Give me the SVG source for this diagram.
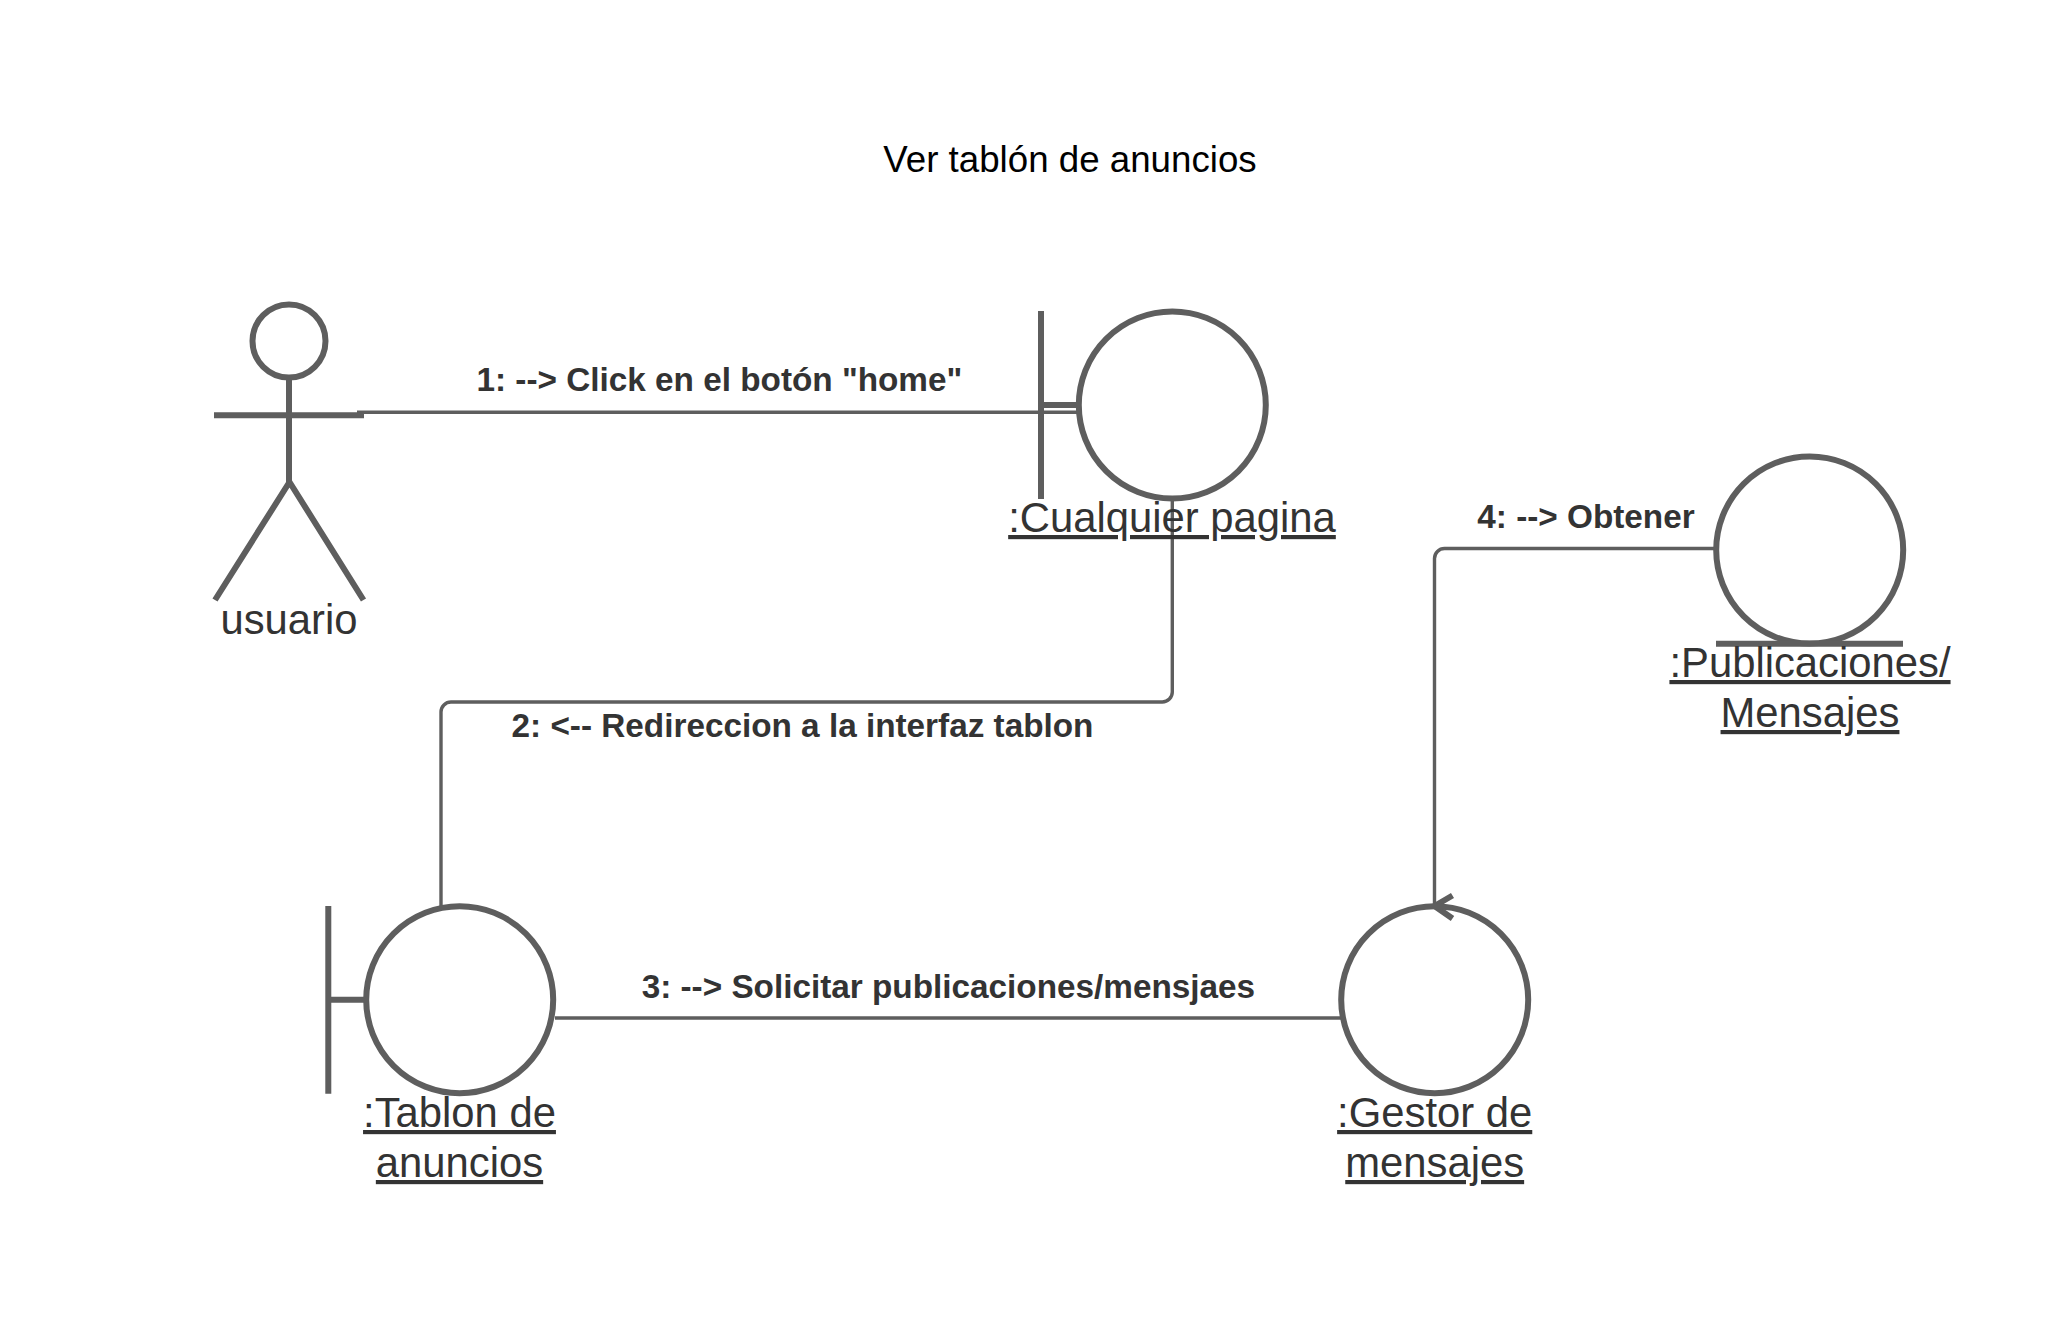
<svg xmlns="http://www.w3.org/2000/svg" width="2057" height="1331" viewBox="0 0 2057 1331">
<style>
text{font-family:"Liberation Sans",Arial,sans-serif;text-anchor:middle;fill:#333}
.s{fill:none;stroke:#5e5e5e;stroke-width:6;stroke-linejoin:round}
.c{fill:none;stroke:#5e5e5e;stroke-width:3.4;stroke-linejoin:round}
.n{font-size:41.8px}
.u{text-decoration:underline}
.m{font-size:33.3px;font-weight:bold}
</style>
<rect width="2057" height="1331" fill="#fff"/>
<text id="title" x="1070" y="172" font-size="36.7" style="fill:#000">Ver tablón de anuncios</text>
<g id="connectors">
<path class="c" d="M357 412.300H1078"/>
<path class="c" d="M1172.300 499V692a10 10 0 0 1-10 10H451a10 10 0 0 0-10 10V906"/>
<path class="c" d="M555 1018H1343"/>
<path class="c" d="M1718 548.500H1444.500a10 10 0 0 0-10 10V906"/>
<path class="s" d="M1452.500 895.500L1434.500 906L1452.500 918.500"/>
</g>
<g id="usuario">
<circle class="s" cx="289" cy="341" r="36.500"/>
<path class="s" d="M214 415.300H364M289 377V482M289.500 482L215 600M289.500 482L363.500 600"/>
<text class="n" x="289" y="634">usuario</text>
</g>
<g id="cualquier">
<circle class="s" cx="1172.300" cy="405" r="93.500"/>
<path class="s" d="M1041 311V499M1041 405H1079"/>
<text class="n u" x="1172" y="532">:Cualquier pagina</text>
</g>
<g id="publicaciones">
<circle class="s" cx="1809.700" cy="550" r="93.500"/>
<path class="s" d="M1716 643.700H1903"/>
<text class="n u" x="1810" y="677">:Publicaciones/</text>
<text class="n u" x="1810" y="727">Mensajes</text>
</g>
<g id="tablon">
<circle class="s" cx="459.700" cy="999.700" r="93.500"/>
<path class="s" d="M328.300 906V1093.700M328.300 999.700H366"/>
<text class="n u" x="459.500" y="1127">:Tablon de</text>
<text class="n u" x="459.500" y="1177">anuncios</text>
</g>
<g id="gestor">
<circle class="s" cx="1434.700" cy="999.700" r="93.500"/>
<text class="n u" x="1434.700" y="1127">:Gestor de</text>
<text class="n u" x="1434.700" y="1177">mensajes</text>
</g>
<text class="m" x="719.400" y="391">1: --&gt; Click en el botón "home"</text>
<text class="m" x="802.500" y="737">2: &lt;-- Redireccion a la interfaz tablon</text>
<text class="m" x="948.400" y="997.500">3: --&gt; Solicitar publicaciones/mensjaes</text>
<text class="m" x="1586" y="528">4: --&gt; Obtener</text>
</svg>
